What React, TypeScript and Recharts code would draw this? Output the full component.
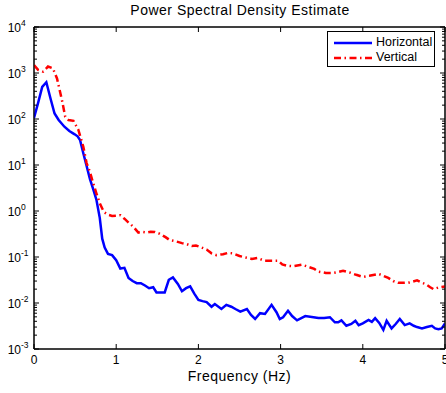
import React from 'react';
import { LineChart, Line, XAxis, YAxis, Legend, Label, ReferenceArea } from 'recharts';

const FONT = '"Liberation Sans", Arial, Helvetica, sans-serif';

const hFreq = [0, 0.05, 0.1, 0.15, 0.2, 0.25, 0.3, 0.37, 0.43, 0.49, 0.53, 0.56, 0.6, 0.64, 0.68, 0.72, 0.76, 0.8, 0.83, 0.86, 0.9, 0.95, 1.0, 1.05, 1.1, 1.15, 1.2, 1.25, 1.3, 1.35, 1.4, 1.45, 1.49, 1.55, 1.59, 1.64, 1.69, 1.75, 1.8, 1.85, 1.9, 1.95, 2.0, 2.05, 2.1, 2.16, 2.2, 2.28, 2.34, 2.4, 2.45, 2.51, 2.59, 2.64, 2.69, 2.75, 2.81, 2.89, 2.95, 2.99, 3.03, 3.09, 3.14, 3.2, 3.3, 3.4, 3.46, 3.53, 3.6, 3.66, 3.7, 3.74, 3.8, 3.86, 3.91, 3.95, 4.0, 4.07, 4.11, 4.15, 4.2, 4.25, 4.29, 4.35, 4.4, 4.45, 4.51, 4.57, 4.62, 4.66, 4.72, 4.78, 4.84, 4.88, 4.92, 4.96, 5.0];
const hPsd = [105, 224, 500, 630, 282, 132, 95, 68, 55, 47, 42, 35, 18, 9.5, 5.0, 3.0, 1.74, 0.71, 0.25, 0.16, 0.117, 0.11, 0.085, 0.056, 0.058, 0.035, 0.03, 0.027, 0.027, 0.024, 0.021, 0.022, 0.017, 0.017, 0.017, 0.032, 0.036, 0.026, 0.018, 0.021, 0.023, 0.016, 0.0117, 0.011, 0.0105, 0.0083, 0.0095, 0.0074, 0.0091, 0.0083, 0.0074, 0.0065, 0.0074, 0.0055, 0.0045, 0.006, 0.0058, 0.0091, 0.0063, 0.0045, 0.0049, 0.0068, 0.0052, 0.0042, 0.0052, 0.0049, 0.0047, 0.0047, 0.0049, 0.0038, 0.0038, 0.0042, 0.0032, 0.0035, 0.0041, 0.0033, 0.0036, 0.0043, 0.0039, 0.0047, 0.0037, 0.0026, 0.0041, 0.0028, 0.0035, 0.0045, 0.0033, 0.0036, 0.0032, 0.003, 0.0028, 0.003, 0.0032, 0.0028, 0.0027, 0.0028, 0.0036];

const vFreq = [0, 0.05, 0.11, 0.17, 0.23, 0.28, 0.34, 0.38, 0.42, 0.48, 0.54, 0.6, 0.64, 0.68, 0.72, 0.76, 0.8, 0.85, 0.9, 0.95, 1.0, 1.05, 1.1, 1.15, 1.2, 1.27, 1.32, 1.37, 1.42, 1.47, 1.53, 1.6, 1.65, 1.72, 1.8, 1.86, 1.92, 1.97, 2.02, 2.1, 2.16, 2.22, 2.3, 2.36, 2.42, 2.5, 2.57, 2.65, 2.72, 2.8, 2.87, 2.97, 3.02, 3.07, 3.15, 3.26, 3.35, 3.41, 3.46, 3.55, 3.64, 3.7, 3.76, 3.84, 3.92, 4.0, 4.08, 4.19, 4.25, 4.31, 4.37, 4.43, 4.49, 4.57, 4.66, 4.72, 4.76, 4.82, 4.86, 4.93, 5.0];
const vPsd = [1480, 1170, 1070, 1380, 1260, 760, 257, 112, 95, 91, 58, 25, 11, 7.1, 4.0, 2.4, 1.48, 0.95, 0.83, 0.78, 0.79, 0.81, 0.68, 0.56, 0.47, 0.34, 0.35, 0.34, 0.355, 0.35, 0.32, 0.27, 0.234, 0.22, 0.2, 0.19, 0.174, 0.178, 0.166, 0.145, 0.12, 0.11, 0.115, 0.123, 0.12, 0.105, 0.098, 0.091, 0.095, 0.083, 0.083, 0.083, 0.069, 0.065, 0.063, 0.068, 0.06, 0.055, 0.048, 0.045, 0.045, 0.047, 0.05, 0.046, 0.041, 0.037, 0.039, 0.043, 0.039, 0.035, 0.03, 0.0275, 0.0275, 0.028, 0.031, 0.0275, 0.026, 0.022, 0.02, 0.022, 0.023];

const xTicks = [0, 1, 2, 3, 4, 5];
const yExponents = [-3, -2, -1, 0, 1, 2, 3, 4];
const minorMultipliers = [2, 3, 4, 5, 6, 7, 8, 9];

const titleText = 'Power Spectral Density Estimate';
const xLabelText = 'Frequency (Hz)';
const seriesNames = ['Horizontal', 'Vertical'];
const seriesColors = ['#0000ff', '#ff0000'];
const seriesDash = [undefined, '7 3.5 1.5 3.5'];

const yMajor = yExponents.map((e) => Math.pow(10, e));
const yMinor: number[] = [];
yExponents.slice(0, -1).forEach((e) => {
  minorMultipliers.forEach((m) => yMinor.push(m * Math.pow(10, e)));
});
const yTicks = [...yMajor, ...yMinor].sort((a, b) => a - b);

const hData = hFreq.map((f, i) => ({ f, psd: hPsd[i] }));
const vData = vFreq.map((f, i) => ({ f, psd: vPsd[i] }));

const isMajor = (v: number) => {
  const l = Math.log10(v);
  return Math.abs(l - Math.round(l)) < 1e-6;
};

const LeftTick = (props: any) => {
  const { x, y, payload } = props;
  const v = payload.value;
  const major = isMajor(v);
  const e = Math.round(Math.log10(v));
  return (
    <g>
      <path d={`M${x},${y}H${x + (major ? 5 : 3)}`} stroke="#000" strokeWidth={1} fill="none" />
      {major && (
        <text fontFamily={FONT} fill="#000" stroke="none">
          <tspan x={x - 13} y={y + 4.5} textAnchor="end" fontSize={12}>10</tspan>
          <tspan x={x - 13} y={y - 1} textAnchor="start" fontSize={8.5}>{String(e)}</tspan>
        </text>
      )}
    </g>
  );
};

const RightTick = (props: any) => {
  const { x, y, payload } = props;
  const major = isMajor(payload.value);
  return <path d={`M${x},${y}H${x - (major ? 5 : 3)}`} stroke="#000" strokeWidth={1} fill="none" />;
};

const BottomTick = (props: any) => {
  const { x, y, payload } = props;
  return (
    <g>
      <path d={`M${x},${y}V${y - 5}`} stroke="#000" strokeWidth={1} fill="none" />
      <text x={x} y={y + 15} textAnchor="middle" fontFamily={FONT} fontSize={12} fill="#000" stroke="none">
        {String(payload.value)}
      </text>
    </g>
  );
};

const TopTick = (props: any) => {
  const { x, y } = props;
  return <path d={`M${x},${y}V${y + 5}`} stroke="#000" strokeWidth={1} fill="none" />;
};

const LegendBox = (props: any) => {
  const payload = props.payload || [];
  return (
    <div
      style={{
        boxSizing: 'border-box',
        width: 108,
        height: 36,
        border: '1px solid #000',
        background: '#fff',
        paddingTop: 3,
        fontFamily: FONT,
        fontSize: 12.5,
        color: '#000',
      }}
    >
      {payload.map((entry: any, i: number) => (
        <div key={i} style={{ display: 'flex', alignItems: 'center', height: 15, paddingLeft: 6 }}>
          <svg width={38} height={6} style={{ display: 'block' }}>
            <line
              x1={0}
              x2={38}
              y1={3}
              y2={3}
              stroke={entry.color}
              strokeWidth={2.5}
              strokeDasharray={entry.payload && entry.payload.strokeDasharray}
            />
          </svg>
          <span style={{ marginLeft: 4, lineHeight: '15px' }}>{entry.value}</span>
        </div>
      ))}
    </div>
  );
};

export default function App() {
  return (
    <div style={{ position: 'absolute', left: 0, top: 0, background: '#fff' }}>
      <LineChart width={446} height={393} margin={{ top: 26, right: 0, bottom: 0, left: 0 }}>
        <XAxis
          xAxisId="bottom"
          orientation="bottom"
          type="number"
          dataKey="f"
          domain={[0, 5]}
          ticks={xTicks}
          interval={0}
          allowDataOverflow
          height={44}
          tickSize={0}
          tickMargin={0}
          tickLine={false}
          stroke="#000"
          axisLine={{ stroke: '#000', strokeWidth: 1 }}
          tick={<BottomTick />}
        >
          <Label value={xLabelText} position="insideBottom" offset={12} fill="#000" fontSize={14} fontFamily={FONT} letterSpacing={0.5} />
        </XAxis>
        <XAxis
          xAxisId="top"
          orientation="top"
          type="number"
          dataKey="f"
          domain={[0, 5]}
          ticks={xTicks}
          interval={0}
          allowDataOverflow
          height={1}
          tickSize={0}
          tickMargin={0}
          tickLine={false}
          stroke="#000"
          axisLine={{ stroke: '#000', strokeWidth: 1 }}
          tick={<TopTick />}
        />
        <YAxis
          yAxisId="left"
          orientation="left"
          scale="log"
          domain={[0.001, 10000]}
          ticks={yTicks}
          interval={0}
          allowDataOverflow
          width={34}
          tickSize={0}
          tickMargin={0}
          tickLine={false}
          stroke="#000"
          axisLine={{ stroke: '#000', strokeWidth: 1 }}
          tick={<LeftTick />}
        >
          <Label
            content={(p: any) => {
              const vb = p.viewBox || {};
              return (
                <text x={240} y={(vb.y || 27) - 12} textAnchor="middle" fontFamily={FONT} fontSize={14} letterSpacing={0.5} fill="#000">
                  {titleText}
                </text>
              );
            }}
          />
        </YAxis>
        <YAxis
          yAxisId="right"
          orientation="right"
          scale="log"
          domain={[0.001, 10000]}
          ticks={yTicks}
          interval={0}
          allowDataOverflow
          width={1}
          tickSize={0}
          tickMargin={0}
          tickLine={false}
          stroke="#000"
          axisLine={{ stroke: '#000', strokeWidth: 1 }}
          tick={<RightTick />}
        />
        <ReferenceArea
          xAxisId="bottom"
          yAxisId="left"
          x1={0}
          x2={5}
          y1={0.001}
          y2={10000}
          fill="none"
          fillOpacity={0}
          stroke="#000"
          strokeWidth={1}
          ifOverflow="visible"
        />
        <Legend
          layout="horizontal"
          verticalAlign="middle"
          align="center"
          content={<LegendBox />}
          wrapperStyle={{ top: 31, left: 327, right: 'auto', bottom: 'auto', width: 108, height: 36 }}
        />
        <Line
          data={hData}
          dataKey="psd"
          name={seriesNames[0]}
          xAxisId="bottom"
          yAxisId="left"
          type="linear"
          stroke={seriesColors[0]}
          strokeWidth={2.5}
          strokeDasharray={seriesDash[0]}
          dot={false}
          activeDot={false}
          isAnimationActive={false}
        />
        <Line
          data={vData}
          dataKey="psd"
          name={seriesNames[1]}
          xAxisId="bottom"
          yAxisId="left"
          type="linear"
          stroke={seriesColors[1]}
          strokeWidth={2.5}
          strokeDasharray={seriesDash[1]}
          dot={false}
          activeDot={false}
          isAnimationActive={false}
        />
      </LineChart>
    </div>
  );
}
